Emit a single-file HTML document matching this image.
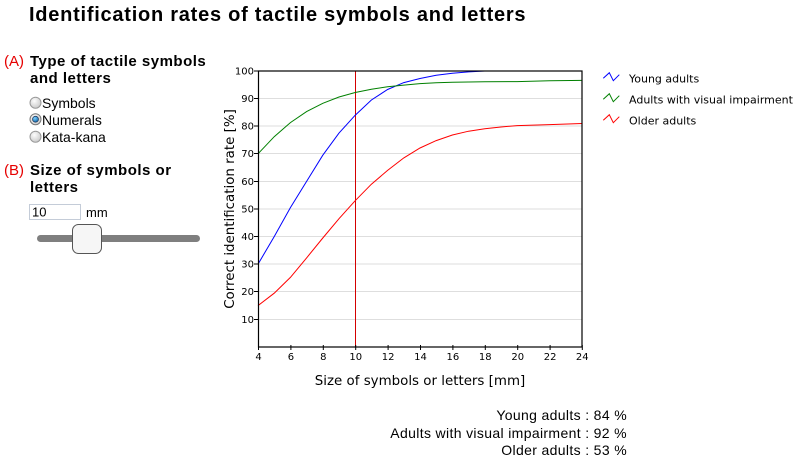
<!DOCTYPE html>
<html><head><meta charset="utf-8">
<style>
html,body{margin:0;padding:0;background:#fff;}
svg{display:block;}
</style></head>
<body>
<svg width="800" height="461" viewBox="0 0 800 461" xmlns="http://www.w3.org/2000/svg">
<rect width="800" height="461" fill="#fff"/>
<!-- Title -->
<text x="29" y="21" font-family="Liberation Sans, sans-serif" font-weight="bold" font-size="20" letter-spacing="0.75" fill="#000">Identification rates of tactile symbols and letters</text>

<!-- Left panel -->
<g font-family="Liberation Sans, sans-serif">
<text x="4" y="66" font-size="15" fill="#e60000">(A)</text>
<text x="30" y="66" font-size="15" font-weight="bold" letter-spacing="0.5">Type of tactile symbols</text>
<text x="30" y="83" font-size="15" font-weight="bold" letter-spacing="0.5">and letters</text>

<defs>
<radialGradient id="rg" cx="0.4" cy="0.35" r="0.7">
<stop offset="0" stop-color="#fdfdfd"/><stop offset="1" stop-color="#c8c8c8"/>
</radialGradient>
<radialGradient id="bg" cx="0.4" cy="0.35" r="0.7">
<stop offset="0" stop-color="#7fd0ff"/><stop offset="1" stop-color="#0a5fa0"/>
</radialGradient>
</defs>
<circle cx="35.5" cy="102.7" r="5.5" fill="url(#rg)" stroke="#999" stroke-width="1"/>
<circle cx="35.5" cy="119.2" r="5.5" fill="url(#rg)" stroke="#777" stroke-width="1"/>
<circle cx="35.5" cy="119.2" r="3" fill="url(#bg)" stroke="#124" stroke-width="0.6"/>
<circle cx="35.5" cy="136.7" r="5.5" fill="url(#rg)" stroke="#999" stroke-width="1"/>
<text x="42" y="108" font-size="14">Symbols</text>
<text x="42" y="125" font-size="14">Numerals</text>
<text x="42" y="142" font-size="14">Kata-kana</text>

<text x="4" y="175" font-size="15" fill="#e60000">(B)</text>
<text x="30" y="175" font-size="15" font-weight="bold" letter-spacing="0.5">Size of symbols or</text>
<text x="30" y="192" font-size="15" font-weight="bold" letter-spacing="0.5">letters</text>

<rect x="29.5" y="204.5" width="51" height="15" fill="#fff" stroke="#c4ccd8" stroke-width="1"/>
<text x="32" y="216.5" font-size="13">10</text>
<text x="86" y="217" font-size="13">mm</text>

<rect x="37" y="235" width="163" height="7" rx="3.5" fill="#7f7f7f"/>
<rect x="72.5" y="224.5" width="29" height="29" rx="6" fill="#f6f6f6" stroke="#555" stroke-width="1"/>
</g>

<!-- Plot -->
<g stroke="#dedede" stroke-width="1">
<line x1="258" y1="98.5" x2="582" y2="98.5"/>
<line x1="258" y1="126" x2="582" y2="126"/>
<line x1="258" y1="153.5" x2="582" y2="153.5"/>
<line x1="258" y1="181.5" x2="582" y2="181.5"/>
<line x1="258" y1="209" x2="582" y2="209"/>
<line x1="258" y1="236.5" x2="582" y2="236.5"/>
<line x1="258" y1="264" x2="582" y2="264"/>
<line x1="258" y1="291.5" x2="582" y2="291.5"/>
<line x1="258" y1="319.5" x2="582" y2="319.5"/>
</g>

<!-- vertical marker -->
<line x1="355.5" y1="71" x2="355.5" y2="347" stroke="#d40000" stroke-width="1"/>

<!-- series -->
<polyline fill="none" stroke="#0000ff" stroke-width="1" points="258,264.2 274.2,236.6 290.4,207.6 306.6,181.4 322.8,155.2 339,133.1 355.2,115.2 371.4,100 387.6,89.5 403.8,82.6 420,78.5 436.2,75.3 452.4,73.2 468.6,71.9 484.8,71 582,71"/>
<polyline fill="none" stroke="#008000" stroke-width="1" points="258,153.8 274.2,136.7 290.4,122.6 306.6,111.6 322.8,103.3 339,97 355.2,92.5 371.4,89.2 387.6,86.8 403.8,85.1 420,83.6 436.2,82.8 452.4,82.2 484.8,81.8 517.2,81.6 549.6,80.8 582,80.4"/>
<polyline fill="none" stroke="#ff0000" stroke-width="1" points="258,305.6 274.2,293.2 290.4,277.4 306.6,257.9 322.8,238 339,218.7 355.2,200.7 371.4,184.2 387.6,170.4 403.8,157.9 420,148 436.2,140.6 452.4,135 468.6,131.2 484.8,128.7 501,127 517.2,125.6 549.6,124.6 582,123.5"/>

<!-- frame -->
<rect x="258.5" y="71" width="323.5" height="276" fill="none" stroke="#000" stroke-width="1.2"/>

<!-- y ticks -->
<g stroke="#000" stroke-width="1">
<line x1="254" y1="71" x2="258" y2="71"/>
<line x1="254" y1="98.5" x2="258" y2="98.5"/>
<line x1="254" y1="126" x2="258" y2="126"/>
<line x1="254" y1="153.5" x2="258" y2="153.5"/>
<line x1="254" y1="181.5" x2="258" y2="181.5"/>
<line x1="254" y1="209" x2="258" y2="209"/>
<line x1="254" y1="236.5" x2="258" y2="236.5"/>
<line x1="254" y1="264" x2="258" y2="264"/>
<line x1="254" y1="291.5" x2="258" y2="291.5"/>
<line x1="254" y1="319.5" x2="258" y2="319.5"/>
</g>
<g font-family="DejaVu Sans, sans-serif" font-size="10" text-anchor="end" fill="#000">
<text x="254" y="74.5">100</text>
<text x="254" y="102">90</text>
<text x="254" y="129.5">80</text>
<text x="254" y="157">70</text>
<text x="254" y="185">60</text>
<text x="254" y="212.5">50</text>
<text x="254" y="240">40</text>
<text x="254" y="267.5">30</text>
<text x="254" y="295">20</text>
<text x="254" y="323">10</text>
</g>

<!-- x ticks -->
<g stroke="#000" stroke-width="1">
<line x1="258.5" y1="345" x2="258.5" y2="350"/>
<line x1="290.9" y1="345" x2="290.9" y2="350"/>
<line x1="323.3" y1="345" x2="323.3" y2="350"/>
<line x1="355.7" y1="345" x2="355.7" y2="350"/>
<line x1="388.1" y1="345" x2="388.1" y2="350"/>
<line x1="420.5" y1="345" x2="420.5" y2="350"/>
<line x1="452.9" y1="345" x2="452.9" y2="350"/>
<line x1="485.3" y1="345" x2="485.3" y2="350"/>
<line x1="517.7" y1="345" x2="517.7" y2="350"/>
<line x1="550.1" y1="345" x2="550.1" y2="350"/>
<line x1="582.3" y1="345" x2="582.3" y2="350"/>
</g>
<g font-family="DejaVu Sans, sans-serif" font-size="10" text-anchor="middle" fill="#000">
<text x="258.5" y="360">4</text>
<text x="290.9" y="360">6</text>
<text x="323.3" y="360">8</text>
<text x="355.7" y="360">10</text>
<text x="388.1" y="360">12</text>
<text x="420.5" y="360">14</text>
<text x="452.9" y="360">16</text>
<text x="485.3" y="360">18</text>
<text x="517.7" y="360">20</text>
<text x="550.1" y="360">22</text>
<text x="582.3" y="360">24</text>
</g>

<text x="420" y="385" font-family="DejaVu Sans, sans-serif" font-size="13.4" text-anchor="middle" fill="#000">Size of symbols or letters [mm]</text>
<text transform="translate(234,209) rotate(-90)" x="0" y="0" font-family="DejaVu Sans, sans-serif" font-size="13.4" text-anchor="middle" fill="#000">Correct identification rate [%]</text>

<!-- legend -->
<polyline fill="none" stroke="#0000ff" stroke-width="1" points="603.3,78.3 609.3,72.7 613.3,80.7 619.3,74.7"/>
<polyline fill="none" stroke="#008000" stroke-width="1" points="603.3,99.3 609.3,93.7 613.3,101.7 619.3,95.7"/>
<polyline fill="none" stroke="#ff0000" stroke-width="1" points="603.3,120.3 609.3,114.7 613.3,122.7 619.3,116.7"/>
<g font-family="DejaVu Sans, sans-serif" font-size="11" fill="#000">
<text x="629" y="82.5">Young adults</text>
<text x="629" y="103.5">Adults with visual impairment</text>
<text x="629" y="124.5">Older adults</text>
</g>

<!-- bottom readout -->
<g font-family="Liberation Sans, sans-serif" font-size="14" letter-spacing="0.35" text-anchor="end" fill="#000">
<text x="627" y="420">Young adults : 84 %</text>
<text x="627" y="438">Adults with visual impairment : 92 %</text>
<text x="627" y="455">Older adults : 53 %</text>
</g>
</svg>
</body></html>
